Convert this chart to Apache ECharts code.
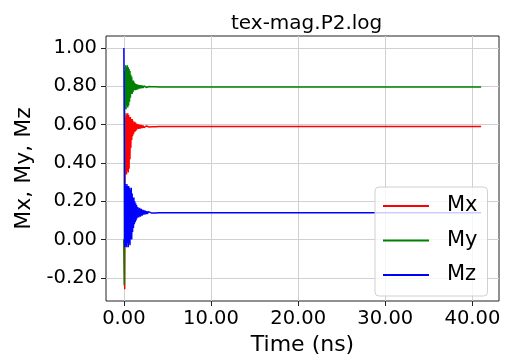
<!DOCTYPE html>
<html>
<head>
<meta charset="utf-8">
<script src="https://cdn.jsdelivr.net/npm/echarts@6/dist/echarts.min.js"></script>
<style>
  html, body { margin: 0; padding: 0; background: #fff; }
  #chart { width: 514px; height: 361px; }
</style>
</head>
<body>
<div id="chart"></div>
<script>
// time (ns): dense near the start where it rings
var timeNs = [0, 0.05, 0.1, 0.15, 0.2, 0.25, 0.3, 0.35, 0.4, 0.45, 0.5, 0.55, 0.6, 0.65, 0.7, 0.75,
  0.8, 0.85, 0.9, 0.95, 1.0, 1.05, 1.1, 1.15, 1.2, 1.25, 1.3, 1.35, 1.4, 1.45, 1.5,
  1.6, 1.7, 1.8, 1.9, 2.0, 2.1, 2.2, 2.3, 2.4, 2.5, 2.6, 2.7, 2.8, 2.9, 3.0,
  3.2, 3.4, 3.6, 3.8, 4.0, 5, 10, 20, 30, 41]

var mx = [0.00, -0.10, -0.26, 0.64, 0.36, 0.66, 0.34, 0.65, 0.36, 0.66, 0.35, 0.65, 0.37, 0.64, 0.42, 0.64,
  0.48, 0.63, 0.52, 0.63, 0.54, 0.62, 0.55, 0.61, 0.56, 0.615, 0.565, 0.61, 0.57, 0.605, 0.575,
  0.603, 0.578, 0.60, 0.58, 0.598, 0.582, 0.596, 0.584, 0.594, 0.586, 0.593, 0.587, 0.592, 0.588, 0.591,
  0.589, 0.591, 0.589, 0.590, 0.590, 0.590, 0.590, 0.590, 0.590, 0.590]

var my = [0.00, -0.24, 0.88, 0.70, 0.91, 0.68, 0.90, 0.70, 0.91, 0.69, 0.90, 0.70, 0.89, 0.72, 0.88, 0.74,
  0.86, 0.76, 0.85, 0.76, 0.83, 0.77, 0.83, 0.78, 0.82, 0.78, 0.815, 0.78, 0.812, 0.783, 0.81,
  0.785, 0.808, 0.788, 0.806, 0.79, 0.804, 0.791, 0.802, 0.793, 0.801, 0.794, 0.800, 0.795, 0.799, 0.796,
  0.798, 0.796, 0.798, 0.797, 0.797, 0.797, 0.797, 0.797, 0.797, 0.797]

var mz = [1.00, 0.55, -0.04, 0.29, -0.03, 0.28, -0.04, 0.29, -0.02, 0.28, -0.04, 0.28, -0.02, 0.27, -0.03, 0.26,
  0.00, 0.27, 0.00, 0.24, 0.04, 0.22, 0.06, 0.22, 0.08, 0.20, 0.09, 0.19, 0.10, 0.18, 0.11,
  0.17, 0.115, 0.165, 0.12, 0.16, 0.125, 0.155, 0.13, 0.152, 0.132, 0.148, 0.134, 0.146, 0.136, 0.144,
  0.138, 0.143, 0.139, 0.142, 0.140, 0.140, 0.140, 0.140, 0.140, 0.140]

var seriesNames = ['Mx', 'My', 'Mz']
var seriesColors = ['#ff0000', '#008000', '#0000ff']
var xTicks = [0, 10, 20, 30, 40]
var yTicks = [-0.2, 0, 0.2, 0.4, 0.6, 0.8, 1.0]

var font = 'DejaVu Sans'

function pairs(vals) {
  return timeNs.map(function (t, i) { return [t, vals[i]] })
}

var chart = echarts.init(document.getElementById('chart'))
chart.setOption({
  animation: false,
  color: seriesColors,
  title: {
    text: 'tex-mag.P2.log',
    left: 226,
    top: 9,
    textStyle: { fontFamily: font, fontSize: 20, fontWeight: 'normal', color: '#000' }
  },
  grid: {
    left: 106,
    right: 15,
    top: 36,
    bottom: 55,
    show: true,
    borderColor: '#222',
    borderWidth: 1
  },
  legend: {
    orient: 'vertical',
    left: 375,
    top: 187,
    padding: [8, 10, 10, 8],
    itemGap: 12.5,
    itemWidth: 46,
    itemHeight: 2,
    icon: 'rect',
    backgroundColor: 'rgba(255,255,255,0.8)',
    borderColor: '#d0d0d0',
    borderWidth: 1,
    borderRadius: 4,
    textStyle: { fontFamily: font, fontSize: 21, color: '#000', lineHeight: 22, padding: [0, 0, 0, 13] },
    data: seriesNames
  },
  xAxis: {
    type: 'value',
    min: -2.05,
    max: 43.05,
    splitNumber: 5,
    name: 'Time (ns)',
    nameLocation: 'middle',
    nameGap: 33,
    nameTextStyle: { fontFamily: font, fontSize: 22, color: '#000' },
    axisLine: { show: false, onZero: false },
    axisTick: { show: true, length: 5, customValues: xTicks, lineStyle: { color: '#222' } },
    axisLabel: {
      customValues: xTicks,
      margin: 8,
      fontFamily: font, fontSize: 19.5, color: '#000',
      formatter: function (v) { return v.toFixed(2) }
    },
    splitLine: { show: true, lineStyle: { color: '#d0d0d0', width: 1 } }
  },
  yAxis: {
    type: 'value',
    min: -0.321,
    max: 1.063,
    splitNumber: 7,
    name: 'Mx, My, Mz',
    nameLocation: 'middle',
    nameGap: 64,
    nameTextStyle: { fontFamily: font, fontSize: 22, color: '#000' },
    axisLine: { show: false, onZero: false },
    axisTick: { show: true, length: 5, customValues: yTicks, lineStyle: { color: '#222' } },
    axisLabel: {
      customValues: yTicks,
      margin: 9,
      fontFamily: font, fontSize: 19.5, color: '#000',
      formatter: function (v) { return v.toFixed(2) }
    },
    splitLine: { show: true, lineStyle: { color: '#d0d0d0', width: 1 } }
  },
  series: [
    { name: 'Mx', type: 'line', data: pairs(mx), showSymbol: false, lineStyle: { width: 1.5 } },
    { name: 'My', type: 'line', data: pairs(my), showSymbol: false, lineStyle: { width: 1.5 } },
    { name: 'Mz', type: 'line', data: pairs(mz), showSymbol: false, lineStyle: { width: 1.5 } }
  ]
})
</script>
</body>
</html>
